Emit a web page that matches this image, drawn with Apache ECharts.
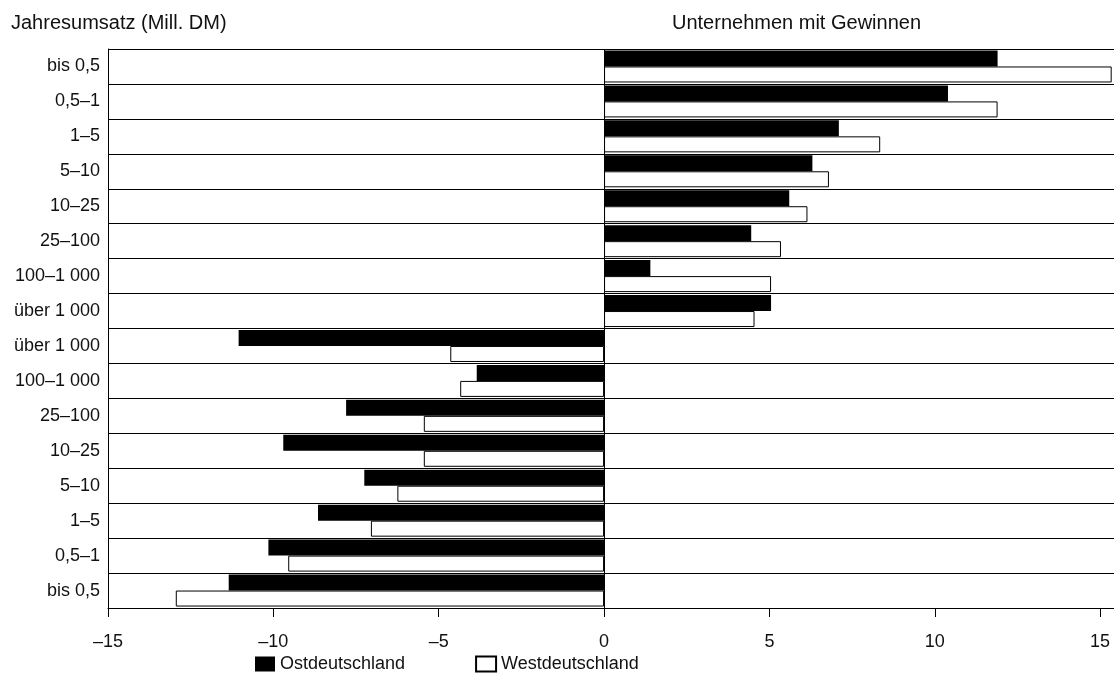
<!DOCTYPE html>
<html>
<head>
<meta charset="utf-8">
<script src="https://cdn.jsdelivr.net/npm/echarts@6/dist/echarts.min.js"></script>
<style>
html,body{margin:0;padding:0;background:#fff;}
#c{width:1114px;height:676px;}
</style>
</head>
<body>
<div id="c"></div>
<script>
// Größenklassen (Jahresumsatz, Mill. DM)
const klassen = ['bis 0,5', '0,5–1', '1–5', '5–10', '10–25', '25–100', '100–1 000', 'über 1 000'];
// Unternehmen mit Gewinnen (in Klassen-Reihenfolge)
const gewinnOst  = [11.9, 10.4, 7.1, 6.3, 5.6, 4.45, 1.4, 5.05];
const gewinnWest = [15.35, 11.9, 8.35, 6.8, 6.15, 5.35, 5.05, 4.55];
// Unternehmen mit Verlusten (in Klassen-Reihenfolge)
const verlustOst  = [-11.35, -10.15, -8.65, -7.25, -9.7, -7.8, -3.85, -11.05];
const verlustWest = [-12.95, -9.55, -7.05, -6.25, -5.45, -5.45, -4.35, -4.65];
// Achsenbeschriftung
const xTicks = [-15, -10, -5, 0, 5, 10, 15];
const serienNamen = ['Ostdeutschland', 'Westdeutschland'];

// Kategorien von unten nach oben: Verluste (bis 0,5 unten) dann Gewinne (bis 0,5 oben)
const kategorien = klassen.concat(klassen.slice().reverse());
const ostDaten = verlustOst.concat(gewinnOst.slice().reverse());
const westDaten = verlustWest.concat(gewinnWest.slice().reverse());

const FONT = 'Liberation Sans, Arial, Helvetica, sans-serif';
const chart = echarts.init(document.getElementById('c'), null, {renderer: 'canvas'});
chart.setOption({
  animation: false,
  backgroundColor: '#ffffff',
  textStyle: {fontFamily: FONT, color: '#111'},
  title: [
    {text: 'Jahresumsatz (Mill. DM)', left: 6, top: 8,
     textStyle: {fontFamily: FONT, fontSize: 20, fontWeight: 'normal', color: '#111'}},
    {text: 'Unternehmen mit Gewinnen', left: 667, top: 8,
     textStyle: {fontFamily: FONT, fontSize: 20, fontWeight: 'normal', color: '#111'}}
  ],
  legend: {
    data: serienNamen,
    left: 250, top: 650,
    itemWidth: 20, itemHeight: 15, itemGap: 70,
    textStyle: {fontFamily: FONT, fontSize: 18, color: '#111', padding: [0, 0, 0, 0]},
    icon: 'rect'
  },
  grid: {left: 108, right: 0, top: 49, bottom: 68, containLabel: false},
  xAxis: {
    type: 'value', min: -15, max: 15.42,
    axisLine: {show: true, lineStyle: {color: '#000', width: 1}},
    axisTick: {show: true, length: 9, lineStyle: {color: '#000', width: 1}, customValues: xTicks},
    axisLabel: {
      customValues: xTicks,
      margin: 25, fontFamily: FONT, fontSize: 18, color: '#111',
      formatter: v => v < 0 ? '–' + Math.abs(v) : String(v)
    },
    splitLine: {show: false}
  },
  yAxis: {
    type: 'category', data: kategorien,
    axisLine: {show: true, onZero: false, lineStyle: {color: '#000', width: 1}},
    axisTick: {show: false},
    axisLabel: {margin: 8, fontFamily: FONT, fontSize: 18, color: '#111', interval: 0},
    splitLine: {show: true, interval: 0, lineStyle: {color: '#000', width: 1}}
  },
  series: [
    {
      name: serienNamen[0], type: 'bar', data: ostDaten,
      barWidth: 16, barGap: '0%',
      itemStyle: {color: '#000'},
      markLine: {
        silent: true, symbol: ['none', 'none'],
        label: {show: false},
        lineStyle: {color: '#000', width: 1, type: 'solid'},
        data: [{xAxis: 0}]
      }
    },
    {
      name: serienNamen[1], type: 'bar', data: westDaten,
      barWidth: 16, barGap: '0%',
      itemStyle: {color: '#fff', borderColor: '#000', borderWidth: 1}
    }
  ]
});
</script>
</body>
</html>
